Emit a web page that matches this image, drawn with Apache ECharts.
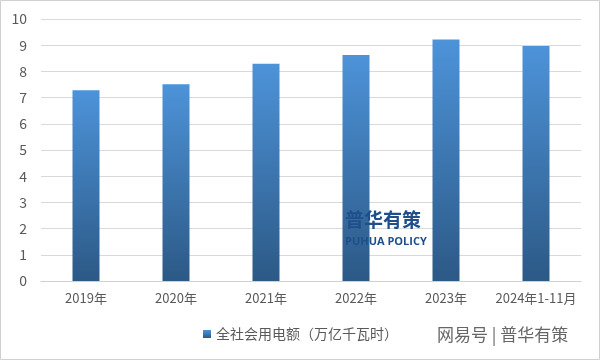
<!DOCTYPE html>
<html><head><meta charset="utf-8">
<script src="https://cdn.jsdelivr.net/npm/echarts@6/dist/echarts.min.js"></script>
<style>html,body{margin:0;padding:0;background:#fff}#c{width:600px;height:360px}</style>
</head><body><div id="c"></div>
<script>
const categories = ['2019年','2020年','2021年','2022年','2023年','2024年1-11月'];
const values = [7.28, 7.51, 8.29, 8.63, 9.22, 8.97];
const seriesName = '全社会用电额（万亿千瓦时）';
const yTicks = [0,1,2,3,4,5,6,7,8,9,10];

const chart = echarts.init(document.getElementById('c'), null, {renderer:'canvas'});
const font = '"Noto Sans CJK SC", "Microsoft YaHei", sans-serif';
chart.setOption({
  animation:false,
  backgroundColor:'#fff',
  grid:{left:41,right:19,top:19,bottom:79},
  legend:{
    bottom:14, left:198, itemWidth:8, itemHeight:8, icon:'rect', itemGap:6,
    textStyle:{color:'#595959', fontSize:14, fontFamily:font},
    data:[seriesName]
  },
  xAxis:{
    type:'category', data:categories,
    axisLine:{lineStyle:{color:'#d0d0d0'}}, axisTick:{show:false},
    axisLabel:{color:'#595959', fontSize:13, fontFamily:font, margin:11, interval:0}
  },
  yAxis:{
    type:'value', min:yTicks[0], max:yTicks[yTicks.length-1], interval:1,
    axisLine:{show:false}, axisTick:{show:false},
    splitLine:{lineStyle:{color:'#d9d9d9'}},
    axisLabel:{color:'#595959', fontSize:14, fontFamily:font, margin:14}
  },
  series:[{
    name:seriesName, type:'bar', data:values, barWidth:'30%',
    itemStyle:{color:new echarts.graphic.LinearGradient(0,0,0,1,[
      {offset:0,color:'#4d93d9'},{offset:1,color:'#2c5986'}])}
  }],
  graphic:[
    {type:'rect', shape:{x:0.5,y:0.5,width:599,height:359}, style:{fill:'none',stroke:'#d0d0d0',lineWidth:1}, z:100},
    {type:'text', left:345, top:210, style:{text:'普华有策', fill:'#1f4f8a', font:'bold 19px '+font}, z:100},
    {type:'text', left:345, top:236, style:{text:'PUHUA POLICY', fill:'#1f4f8a', font:'bold 11px "Open Sans", sans-serif'}, z:100},
    {type:'text', left:437, top:326, style:{text:'网易号 | 普华有策', fill:'#666', font:'17px '+font}, z:100}
  ]
});
</script></body></html>
